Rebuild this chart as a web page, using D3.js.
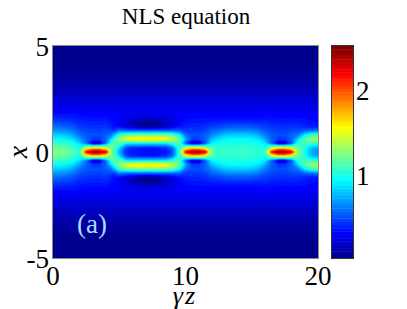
<!DOCTYPE html>
<html>
<head>
<meta charset="utf-8">
<script src="https://cdn.jsdelivr.net/npm/d3@7"></script>
<style>
  html, body { margin: 0; padding: 0; background: #fff; }
  svg text { font-family: "Liberation Serif", "Tinos", "DejaVu Serif", serif; }
</style>
</head>
<body>
<svg id="chart" width="407" height="309"></svg>
<script>
// propagation distance (columns) and transverse coordinate (rows, top = +5)
const zSamples = [0,0.5,1,1.5,2,2.5,3,3.5,4,4.5,5,5.5,6,6.5,7,7.5,8,8.5,9,9.5,10,10.5,11,11.5,12,12.5,13,13.5,14,14.5,15,15.5,16,16.5,17,17.5,18,18.5,19,19.5,20];
const xSamples = [5,4.8,4.6,4.4,4.2,4,3.8,3.6,3.4,3.2,3,2.8,2.6,2.4,2.2,2,1.8,1.6,1.4,1.2,1,0.8,0.6,0.4,0.2,0,-0.2,-0.4,-0.6,-0.8,-1,-1.2,-1.4,-1.6,-1.8,-2,-2.2,-2.4,-2.6,-2.8,-3,-3.2,-3.4,-3.6,-3.8,-4,-4.2,-4.4,-4.6,-4.8,-5];

// |psi|, one line per z sample, x from +5 down to -5
const amplitude = [
  [0.02,0.02,0.03,0.03,0.04,0.05,0.06,0.07,0.09,0.11,0.13,0.16,0.19,0.22,0.25,0.29,0.34,0.40,0.48,0.58,0.68,0.82,0.95,1.08,1.20,1.25,1.20,1.08,0.95,0.82,0.68,0.58,0.48,0.40,0.34,0.29,0.25,0.22,0.19,0.16,0.13,0.11,0.09,0.07,0.06,0.05,0.04,0.03,0.03,0.02,0.02],
  [0.02,0.02,0.03,0.03,0.04,0.05,0.06,0.07,0.09,0.11,0.13,0.16,0.19,0.22,0.25,0.29,0.34,0.40,0.47,0.57,0.67,0.81,0.94,1.07,1.19,1.24,1.19,1.07,0.94,0.81,0.67,0.57,0.47,0.40,0.34,0.29,0.25,0.22,0.19,0.16,0.13,0.11,0.09,0.07,0.06,0.05,0.04,0.03,0.03,0.02,0.02],
  [0.02,0.02,0.03,0.03,0.04,0.05,0.06,0.07,0.09,0.11,0.13,0.16,0.19,0.22,0.25,0.29,0.33,0.39,0.46,0.55,0.65,0.79,0.92,1.05,1.16,1.20,1.16,1.05,0.92,0.79,0.65,0.55,0.46,0.39,0.33,0.29,0.25,0.22,0.19,0.16,0.13,0.11,0.09,0.07,0.06,0.05,0.04,0.03,0.03,0.02,0.02],
  [0.02,0.02,0.03,0.03,0.04,0.05,0.06,0.07,0.09,0.11,0.13,0.16,0.19,0.22,0.25,0.29,0.33,0.38,0.44,0.51,0.60,0.72,0.85,0.98,1.08,1.12,1.08,0.98,0.85,0.72,0.60,0.51,0.44,0.38,0.33,0.29,0.25,0.22,0.19,0.16,0.13,0.11,0.09,0.07,0.06,0.05,0.04,0.03,0.03,0.02,0.02],
  [0.02,0.02,0.03,0.03,0.04,0.05,0.06,0.07,0.09,0.11,0.13,0.16,0.19,0.22,0.25,0.28,0.32,0.36,0.40,0.45,0.52,0.60,0.70,0.85,1.00,1.05,1.00,0.85,0.70,0.60,0.52,0.45,0.40,0.36,0.32,0.28,0.25,0.22,0.19,0.16,0.13,0.11,0.09,0.07,0.06,0.05,0.04,0.03,0.03,0.02,0.02],
  [0.02,0.02,0.03,0.03,0.04,0.05,0.06,0.07,0.09,0.11,0.13,0.16,0.19,0.22,0.25,0.28,0.31,0.35,0.39,0.43,0.48,0.52,0.55,0.60,1.35,2.15,1.35,0.60,0.55,0.52,0.48,0.43,0.39,0.35,0.31,0.28,0.25,0.22,0.19,0.16,0.13,0.11,0.09,0.07,0.06,0.05,0.04,0.03,0.03,0.02,0.02],
  [0.02,0.02,0.03,0.03,0.04,0.05,0.06,0.07,0.09,0.11,0.13,0.16,0.19,0.22,0.25,0.28,0.31,0.34,0.38,0.42,0.47,0.50,0.45,0.15,1.50,2.45,1.50,0.15,0.45,0.50,0.47,0.42,0.38,0.34,0.31,0.28,0.25,0.22,0.19,0.16,0.13,0.11,0.09,0.07,0.06,0.05,0.04,0.03,0.03,0.02,0.02],
  [0.02,0.02,0.03,0.03,0.04,0.05,0.06,0.07,0.09,0.11,0.13,0.16,0.19,0.22,0.25,0.28,0.31,0.34,0.38,0.42,0.47,0.50,0.45,0.15,1.50,2.45,1.50,0.15,0.45,0.50,0.47,0.42,0.38,0.34,0.31,0.28,0.25,0.22,0.19,0.16,0.13,0.11,0.09,0.07,0.06,0.05,0.04,0.03,0.03,0.02,0.02],
  [0.02,0.02,0.03,0.03,0.04,0.05,0.06,0.07,0.09,0.11,0.13,0.16,0.19,0.22,0.25,0.28,0.31,0.35,0.39,0.44,0.50,0.55,0.55,0.60,1.35,2.20,1.35,0.60,0.55,0.55,0.50,0.44,0.39,0.35,0.31,0.28,0.25,0.22,0.19,0.16,0.13,0.11,0.09,0.07,0.06,0.05,0.04,0.03,0.03,0.02,0.02],
  [0.02,0.02,0.03,0.03,0.04,0.05,0.06,0.07,0.09,0.11,0.13,0.16,0.19,0.22,0.25,0.28,0.30,0.32,0.33,0.35,0.45,0.65,0.95,1.15,1.20,1.20,1.20,1.15,0.95,0.65,0.45,0.35,0.33,0.32,0.30,0.28,0.25,0.22,0.19,0.16,0.13,0.11,0.09,0.07,0.06,0.05,0.04,0.03,0.03,0.02,0.02],
  [0.02,0.02,0.03,0.03,0.04,0.05,0.06,0.07,0.09,0.11,0.13,0.16,0.19,0.22,0.25,0.28,0.30,0.30,0.28,0.32,0.60,1.05,1.30,1.15,0.85,0.75,0.85,1.15,1.30,1.05,0.60,0.32,0.28,0.30,0.30,0.28,0.25,0.22,0.19,0.16,0.13,0.11,0.09,0.07,0.06,0.05,0.04,0.03,0.03,0.02,0.02],
  [0.02,0.02,0.03,0.03,0.04,0.05,0.06,0.07,0.09,0.11,0.13,0.16,0.19,0.22,0.25,0.27,0.28,0.26,0.20,0.22,0.55,1.18,1.48,0.88,0.48,0.42,0.48,0.88,1.48,1.18,0.55,0.22,0.20,0.26,0.28,0.27,0.25,0.22,0.19,0.16,0.13,0.11,0.09,0.07,0.06,0.05,0.04,0.03,0.03,0.02,0.02],
  [0.02,0.02,0.03,0.03,0.04,0.05,0.06,0.07,0.09,0.11,0.13,0.16,0.19,0.22,0.25,0.27,0.27,0.22,0.13,0.15,0.55,1.22,1.58,0.85,0.40,0.36,0.40,0.85,1.58,1.22,0.55,0.15,0.13,0.22,0.27,0.27,0.25,0.22,0.19,0.16,0.13,0.11,0.09,0.07,0.06,0.05,0.04,0.03,0.03,0.02,0.02],
  [0.02,0.02,0.03,0.03,0.04,0.05,0.06,0.07,0.09,0.11,0.13,0.16,0.19,0.22,0.25,0.27,0.26,0.20,0.08,0.09,0.55,1.22,1.60,0.85,0.38,0.34,0.38,0.85,1.60,1.22,0.55,0.09,0.08,0.20,0.26,0.27,0.25,0.22,0.19,0.16,0.13,0.11,0.09,0.07,0.06,0.05,0.04,0.03,0.03,0.02,0.02],
  [0.02,0.02,0.03,0.03,0.04,0.05,0.06,0.07,0.09,0.11,0.13,0.16,0.19,0.22,0.25,0.27,0.26,0.19,0.05,0.05,0.55,1.22,1.60,0.85,0.37,0.33,0.37,0.85,1.60,1.22,0.55,0.05,0.05,0.19,0.26,0.27,0.25,0.22,0.19,0.16,0.13,0.11,0.09,0.07,0.06,0.05,0.04,0.03,0.03,0.02,0.02],
  [0.02,0.02,0.03,0.03,0.04,0.05,0.06,0.07,0.09,0.11,0.13,0.16,0.19,0.22,0.25,0.27,0.26,0.19,0.05,0.05,0.55,1.22,1.60,0.85,0.37,0.33,0.37,0.85,1.60,1.22,0.55,0.05,0.05,0.19,0.26,0.27,0.25,0.22,0.19,0.16,0.13,0.11,0.09,0.07,0.06,0.05,0.04,0.03,0.03,0.02,0.02],
  [0.02,0.02,0.03,0.03,0.04,0.05,0.06,0.07,0.09,0.11,0.13,0.16,0.19,0.22,0.25,0.27,0.26,0.20,0.08,0.09,0.55,1.22,1.60,0.85,0.38,0.34,0.38,0.85,1.60,1.22,0.55,0.09,0.08,0.20,0.26,0.27,0.25,0.22,0.19,0.16,0.13,0.11,0.09,0.07,0.06,0.05,0.04,0.03,0.03,0.02,0.02],
  [0.02,0.02,0.03,0.03,0.04,0.05,0.06,0.07,0.09,0.11,0.13,0.16,0.19,0.22,0.25,0.27,0.27,0.22,0.14,0.16,0.55,1.22,1.55,0.85,0.40,0.36,0.40,0.85,1.55,1.22,0.55,0.16,0.14,0.22,0.27,0.27,0.25,0.22,0.19,0.16,0.13,0.11,0.09,0.07,0.06,0.05,0.04,0.03,0.03,0.02,0.02],
  [0.02,0.02,0.03,0.03,0.04,0.05,0.06,0.07,0.09,0.11,0.13,0.16,0.19,0.22,0.25,0.27,0.28,0.26,0.22,0.24,0.55,1.15,1.45,0.98,0.55,0.48,0.55,0.98,1.45,1.15,0.55,0.24,0.22,0.26,0.28,0.27,0.25,0.22,0.19,0.16,0.13,0.11,0.09,0.07,0.06,0.05,0.04,0.03,0.03,0.02,0.02],
  [0.02,0.02,0.03,0.03,0.04,0.05,0.06,0.07,0.09,0.11,0.13,0.16,0.19,0.22,0.25,0.28,0.30,0.30,0.30,0.33,0.55,0.95,1.20,1.15,1.02,1.00,1.02,1.15,1.20,0.95,0.55,0.33,0.30,0.30,0.30,0.28,0.25,0.22,0.19,0.16,0.13,0.11,0.09,0.07,0.06,0.05,0.04,0.03,0.03,0.02,0.02],
  [0.02,0.02,0.03,0.03,0.04,0.05,0.06,0.07,0.09,0.11,0.13,0.16,0.19,0.22,0.25,0.28,0.30,0.32,0.35,0.38,0.45,0.60,0.75,0.50,1.35,2.15,1.35,0.50,0.75,0.60,0.45,0.38,0.35,0.32,0.30,0.28,0.25,0.22,0.19,0.16,0.13,0.11,0.09,0.07,0.06,0.05,0.04,0.03,0.03,0.02,0.02],
  [0.02,0.02,0.03,0.03,0.04,0.05,0.06,0.07,0.09,0.11,0.13,0.16,0.19,0.22,0.25,0.28,0.30,0.33,0.36,0.40,0.45,0.50,0.45,0.15,1.50,2.45,1.50,0.15,0.45,0.50,0.45,0.40,0.36,0.33,0.30,0.28,0.25,0.22,0.19,0.16,0.13,0.11,0.09,0.07,0.06,0.05,0.04,0.03,0.03,0.02,0.02],
  [0.02,0.02,0.03,0.03,0.04,0.05,0.06,0.07,0.09,0.11,0.13,0.16,0.19,0.22,0.25,0.28,0.30,0.33,0.36,0.40,0.45,0.50,0.45,0.15,1.50,2.45,1.50,0.15,0.45,0.50,0.45,0.40,0.36,0.33,0.30,0.28,0.25,0.22,0.19,0.16,0.13,0.11,0.09,0.07,0.06,0.05,0.04,0.03,0.03,0.02,0.02],
  [0.02,0.02,0.03,0.03,0.04,0.05,0.06,0.07,0.09,0.11,0.13,0.16,0.19,0.22,0.25,0.28,0.30,0.33,0.37,0.42,0.48,0.55,0.55,0.50,1.35,2.20,1.35,0.50,0.55,0.55,0.48,0.42,0.37,0.33,0.30,0.28,0.25,0.22,0.19,0.16,0.13,0.11,0.09,0.07,0.06,0.05,0.04,0.03,0.03,0.02,0.02],
  [0.02,0.02,0.03,0.03,0.04,0.05,0.06,0.07,0.09,0.11,0.13,0.16,0.19,0.22,0.25,0.28,0.30,0.34,0.39,0.46,0.55,0.65,0.80,0.92,1.12,1.20,1.12,0.92,0.80,0.65,0.55,0.46,0.39,0.34,0.30,0.28,0.25,0.22,0.19,0.16,0.13,0.11,0.09,0.07,0.06,0.05,0.04,0.03,0.03,0.02,0.02],
  [0.02,0.02,0.03,0.03,0.04,0.05,0.06,0.07,0.09,0.11,0.13,0.16,0.19,0.22,0.25,0.28,0.30,0.34,0.40,0.48,0.58,0.72,0.86,0.97,1.05,1.08,1.05,0.97,0.86,0.72,0.58,0.48,0.40,0.34,0.30,0.28,0.25,0.22,0.19,0.16,0.13,0.11,0.09,0.07,0.06,0.05,0.04,0.03,0.03,0.02,0.02],
  [0.02,0.02,0.03,0.03,0.04,0.05,0.06,0.07,0.09,0.11,0.13,0.16,0.19,0.22,0.25,0.27,0.30,0.34,0.41,0.51,0.64,0.80,0.92,1.00,1.05,1.07,1.05,1.00,0.92,0.80,0.64,0.51,0.41,0.34,0.30,0.27,0.25,0.22,0.19,0.16,0.13,0.11,0.09,0.07,0.06,0.05,0.04,0.03,0.03,0.02,0.02],
  [0.02,0.02,0.03,0.03,0.04,0.05,0.06,0.07,0.09,0.11,0.13,0.16,0.19,0.22,0.25,0.27,0.30,0.34,0.41,0.52,0.65,0.82,0.94,1.00,1.05,1.07,1.05,1.00,0.94,0.82,0.65,0.52,0.41,0.34,0.30,0.27,0.25,0.22,0.19,0.16,0.13,0.11,0.09,0.07,0.06,0.05,0.04,0.03,0.03,0.02,0.02],
  [0.02,0.02,0.03,0.03,0.04,0.05,0.06,0.07,0.09,0.11,0.13,0.16,0.19,0.22,0.25,0.27,0.30,0.34,0.41,0.52,0.65,0.82,0.94,1.01,1.06,1.08,1.06,1.01,0.94,0.82,0.65,0.52,0.41,0.34,0.30,0.27,0.25,0.22,0.19,0.16,0.13,0.11,0.09,0.07,0.06,0.05,0.04,0.03,0.03,0.02,0.02],
  [0.02,0.02,0.03,0.03,0.04,0.05,0.06,0.07,0.09,0.11,0.13,0.16,0.19,0.22,0.25,0.27,0.30,0.34,0.41,0.52,0.65,0.82,0.94,1.01,1.06,1.08,1.06,1.01,0.94,0.82,0.65,0.52,0.41,0.34,0.30,0.27,0.25,0.22,0.19,0.16,0.13,0.11,0.09,0.07,0.06,0.05,0.04,0.03,0.03,0.02,0.02],
  [0.02,0.02,0.03,0.03,0.04,0.05,0.06,0.07,0.09,0.11,0.13,0.16,0.19,0.22,0.25,0.27,0.30,0.34,0.41,0.51,0.64,0.80,0.92,1.00,1.05,1.07,1.05,1.00,0.92,0.80,0.64,0.51,0.41,0.34,0.30,0.27,0.25,0.22,0.19,0.16,0.13,0.11,0.09,0.07,0.06,0.05,0.04,0.03,0.03,0.02,0.02],
  [0.02,0.02,0.03,0.03,0.04,0.05,0.06,0.07,0.09,0.11,0.13,0.16,0.19,0.22,0.25,0.27,0.30,0.34,0.40,0.49,0.60,0.75,0.87,0.96,1.02,1.05,1.02,0.96,0.87,0.75,0.60,0.49,0.40,0.34,0.30,0.27,0.25,0.22,0.19,0.16,0.13,0.11,0.09,0.07,0.06,0.05,0.04,0.03,0.03,0.02,0.02],
  [0.02,0.02,0.03,0.03,0.04,0.05,0.06,0.07,0.09,0.11,0.13,0.16,0.19,0.22,0.25,0.28,0.31,0.35,0.40,0.46,0.53,0.62,0.74,0.88,1.00,1.05,1.00,0.88,0.74,0.62,0.53,0.46,0.40,0.35,0.31,0.28,0.25,0.22,0.19,0.16,0.13,0.11,0.09,0.07,0.06,0.05,0.04,0.03,0.03,0.02,0.02],
  [0.02,0.02,0.03,0.03,0.04,0.05,0.06,0.07,0.09,0.11,0.13,0.16,0.19,0.22,0.25,0.28,0.31,0.34,0.38,0.43,0.48,0.52,0.55,0.55,1.35,2.10,1.35,0.55,0.55,0.52,0.48,0.43,0.38,0.34,0.31,0.28,0.25,0.22,0.19,0.16,0.13,0.11,0.09,0.07,0.06,0.05,0.04,0.03,0.03,0.02,0.02],
  [0.02,0.02,0.03,0.03,0.04,0.05,0.06,0.07,0.09,0.11,0.13,0.16,0.19,0.22,0.25,0.28,0.30,0.33,0.37,0.42,0.46,0.50,0.45,0.15,1.50,2.45,1.50,0.15,0.45,0.50,0.46,0.42,0.37,0.33,0.30,0.28,0.25,0.22,0.19,0.16,0.13,0.11,0.09,0.07,0.06,0.05,0.04,0.03,0.03,0.02,0.02],
  [0.02,0.02,0.03,0.03,0.04,0.05,0.06,0.07,0.09,0.11,0.13,0.16,0.19,0.22,0.25,0.28,0.30,0.33,0.37,0.42,0.46,0.50,0.45,0.15,1.50,2.45,1.50,0.15,0.45,0.50,0.46,0.42,0.37,0.33,0.30,0.28,0.25,0.22,0.19,0.16,0.13,0.11,0.09,0.07,0.06,0.05,0.04,0.03,0.03,0.02,0.02],
  [0.02,0.02,0.03,0.03,0.04,0.05,0.06,0.07,0.09,0.11,0.13,0.16,0.19,0.22,0.25,0.28,0.30,0.34,0.38,0.43,0.48,0.55,0.55,0.50,1.35,2.20,1.35,0.50,0.55,0.55,0.48,0.43,0.38,0.34,0.30,0.28,0.25,0.22,0.19,0.16,0.13,0.11,0.09,0.07,0.06,0.05,0.04,0.03,0.03,0.02,0.02],
  [0.02,0.02,0.03,0.03,0.04,0.05,0.06,0.07,0.09,0.11,0.13,0.16,0.19,0.22,0.25,0.28,0.30,0.33,0.37,0.42,0.50,0.62,0.85,1.05,1.20,1.25,1.20,1.05,0.85,0.62,0.50,0.42,0.37,0.33,0.30,0.28,0.25,0.22,0.19,0.16,0.13,0.11,0.09,0.07,0.06,0.05,0.04,0.03,0.03,0.02,0.02],
  [0.02,0.02,0.03,0.03,0.04,0.05,0.06,0.07,0.09,0.11,0.13,0.16,0.19,0.22,0.25,0.28,0.30,0.33,0.36,0.40,0.55,0.90,1.15,1.10,0.98,1.00,0.98,1.10,1.15,0.90,0.55,0.40,0.36,0.33,0.30,0.28,0.25,0.22,0.19,0.16,0.13,0.11,0.09,0.07,0.06,0.05,0.04,0.03,0.03,0.02,0.02],
  [0.02,0.02,0.03,0.03,0.04,0.05,0.06,0.07,0.09,0.11,0.13,0.16,0.19,0.22,0.25,0.28,0.30,0.32,0.34,0.38,0.58,1.05,1.32,1.05,0.78,0.74,0.78,1.05,1.32,1.05,0.58,0.38,0.34,0.32,0.30,0.28,0.25,0.22,0.19,0.16,0.13,0.11,0.09,0.07,0.06,0.05,0.04,0.03,0.03,0.02,0.02],
  [0.02,0.02,0.03,0.03,0.04,0.05,0.06,0.07,0.09,0.11,0.13,0.16,0.19,0.22,0.25,0.28,0.30,0.31,0.33,0.36,0.60,1.12,1.38,1.02,0.70,0.64,0.70,1.02,1.38,1.12,0.60,0.36,0.33,0.31,0.30,0.28,0.25,0.22,0.19,0.16,0.13,0.11,0.09,0.07,0.06,0.05,0.04,0.03,0.03,0.02,0.02]
];

const zTicks = [0, 10, 20];
const xTicks = [-5, 0, 5];
const colorTicks = [1, 2];
const colorLimits = [0.02, 2.52];

const svg = d3.select('#chart');
const serif = '"Liberation Serif", "Tinos", "DejaVu Serif", serif';
const plot = { left: 53, right: 318, top: 46, bottom: 258 };
const bar = { left: 332, right: 353 };

const zScale = d3.scaleLinear().domain([0, 20]).range([plot.left, plot.right]);
const xScale = d3.scaleLinear().domain([-5, 5]).range([plot.bottom, plot.top]);

// MATLAB style jet, 64 levels
function jet(t) {
  const c = v => Math.max(0, Math.min(1, v));
  const r = c(1.5 - Math.abs(4 * t - 3));
  const g = c(1.5 - Math.abs(4 * t - 2));
  const b = c(1.5 - Math.abs(4 * t - 1));
  return d3.rgb(r * 255, g * 255, b * 255).formatHex();
}
const jetColors = d3.range(64).map(k => jet((k + 1) / 64));
const color = d3.scaleQuantize().domain(colorLimits).range(jetColors);

// flatten columns into row-major grid for d3.contours
const n = zSamples.length, m = xSamples.length;
const grid = new Array(n * m);
for (let j = 0; j < m; j++) {
  for (let i = 0; i < n; i++) grid[j * n + i] = amplitude[i][j];
}

const gridZ = d3.scaleLinear().domain([0.5, n - 0.5]).range([zSamples[0], zSamples[n - 1]]);
const gridX = d3.scaleLinear().domain([0.5, m - 0.5]).range([xSamples[0], xSamples[m - 1]]);
const toScreen = d3.geoTransform({
  point: function (gx, gy) { this.stream.point(zScale(gridZ(gx)), xScale(gridX(gy))); }
});
const path = d3.geoPath(toScreen);

svg.append('clipPath').attr('id', 'plotClip')
  .append('rect')
  .attr('x', plot.left).attr('y', plot.top)
  .attr('width', plot.right - plot.left).attr('height', plot.bottom - plot.top);

const field = svg.append('g').attr('clip-path', 'url(#plotClip)');
field.append('rect')
  .attr('x', plot.left).attr('y', plot.top)
  .attr('width', plot.right - plot.left).attr('height', plot.bottom - plot.top)
  .attr('fill', jetColors[0]);

const bands = d3.contours().size([n, m]).thresholds(color.thresholds())(grid);
field.selectAll('path.band')
  .data(bands)
  .enter().append('path')
  .attr('class', 'band')
  .attr('d', path)
  .attr('fill', d => color(d.value))
  .attr('stroke', d => color(d.value))
  .attr('stroke-width', 0.3);

// axes box
svg.append('rect')
  .attr('x', plot.left - 0.5).attr('y', plot.top - 0.5)
  .attr('width', plot.right - plot.left + 1).attr('height', plot.bottom - plot.top + 1)
  .attr('fill', 'none').attr('stroke', '#8a8a8a').attr('stroke-width', 1);

// tick labels
svg.selectAll('text.ytick')
  .data(xTicks)
  .enter().append('text')
  .attr('class', 'ytick')
  .attr('x', plot.left - 4)
  .attr('y', d => xScale(d) + 10)
  .attr('text-anchor', 'end')
  .attr('font-family', serif)
  .attr('font-size', 27)
  .text(d => d);

svg.selectAll('text.xtick')
  .data(zTicks)
  .enter().append('text')
  .attr('class', 'xtick')
  .attr('x', d => zScale(d))
  .attr('y', plot.bottom + 27)
  .attr('text-anchor', 'middle')
  .attr('font-family', serif)
  .attr('font-size', 27)
  .text(d => d);

// axis labels
svg.append('text')
  .attr('x', 185)
  .attr('y', 304)
  .attr('text-anchor', 'middle')
  .attr('font-family', serif)
  .attr('font-size', 26)
  .attr('font-style', 'italic')
  .attr('letter-spacing', 2)
  .text('γz');

svg.append('text')
  .attr('transform', `translate(27,${xScale(0)}) rotate(-90)`)
  .attr('text-anchor', 'middle')
  .attr('font-family', serif)
  .attr('font-size', 28)
  .attr('font-style', 'italic')
  .text('x');

// title
svg.append('text')
  .attr('x', 186)
  .attr('y', 24)
  .attr('text-anchor', 'middle')
  .attr('font-family', serif)
  .attr('font-size', 23)
  .text('NLS equation');

// panel tag
svg.append('text')
  .attr('x', 77)
  .attr('y', 233)
  .attr('font-family', serif)
  .attr('font-size', 27)
  .attr('fill', '#a6dcff')
  .text('(a)');

// colorbar
const cScale = d3.scaleLinear().domain(colorLimits).range([plot.bottom, plot.top]);
svg.selectAll('rect.cb')
  .data(jetColors)
  .enter().append('rect')
  .attr('class', 'cb')
  .attr('x', bar.left)
  .attr('width', bar.right - bar.left)
  .attr('y', d => cScale(color.invertExtent(d)[1]))
  .attr('height', d => cScale(color.invertExtent(d)[0]) - cScale(color.invertExtent(d)[1]) + 0.4)
  .attr('fill', d => d);

svg.append('rect')
  .attr('x', bar.left - 0.5).attr('y', plot.top - 0.5)
  .attr('width', bar.right - bar.left + 1).attr('height', plot.bottom - plot.top + 1)
  .attr('fill', 'none').attr('stroke', '#333').attr('stroke-width', 1);

svg.selectAll('text.ctick')
  .data(colorTicks)
  .enter().append('text')
  .attr('class', 'ctick')
  .attr('x', bar.right + 3)
  .attr('y', d => cScale(d) + 10)
  .attr('font-family', serif)
  .attr('font-size', 27)
  .text(d => d);
</script>
</body>
</html>
